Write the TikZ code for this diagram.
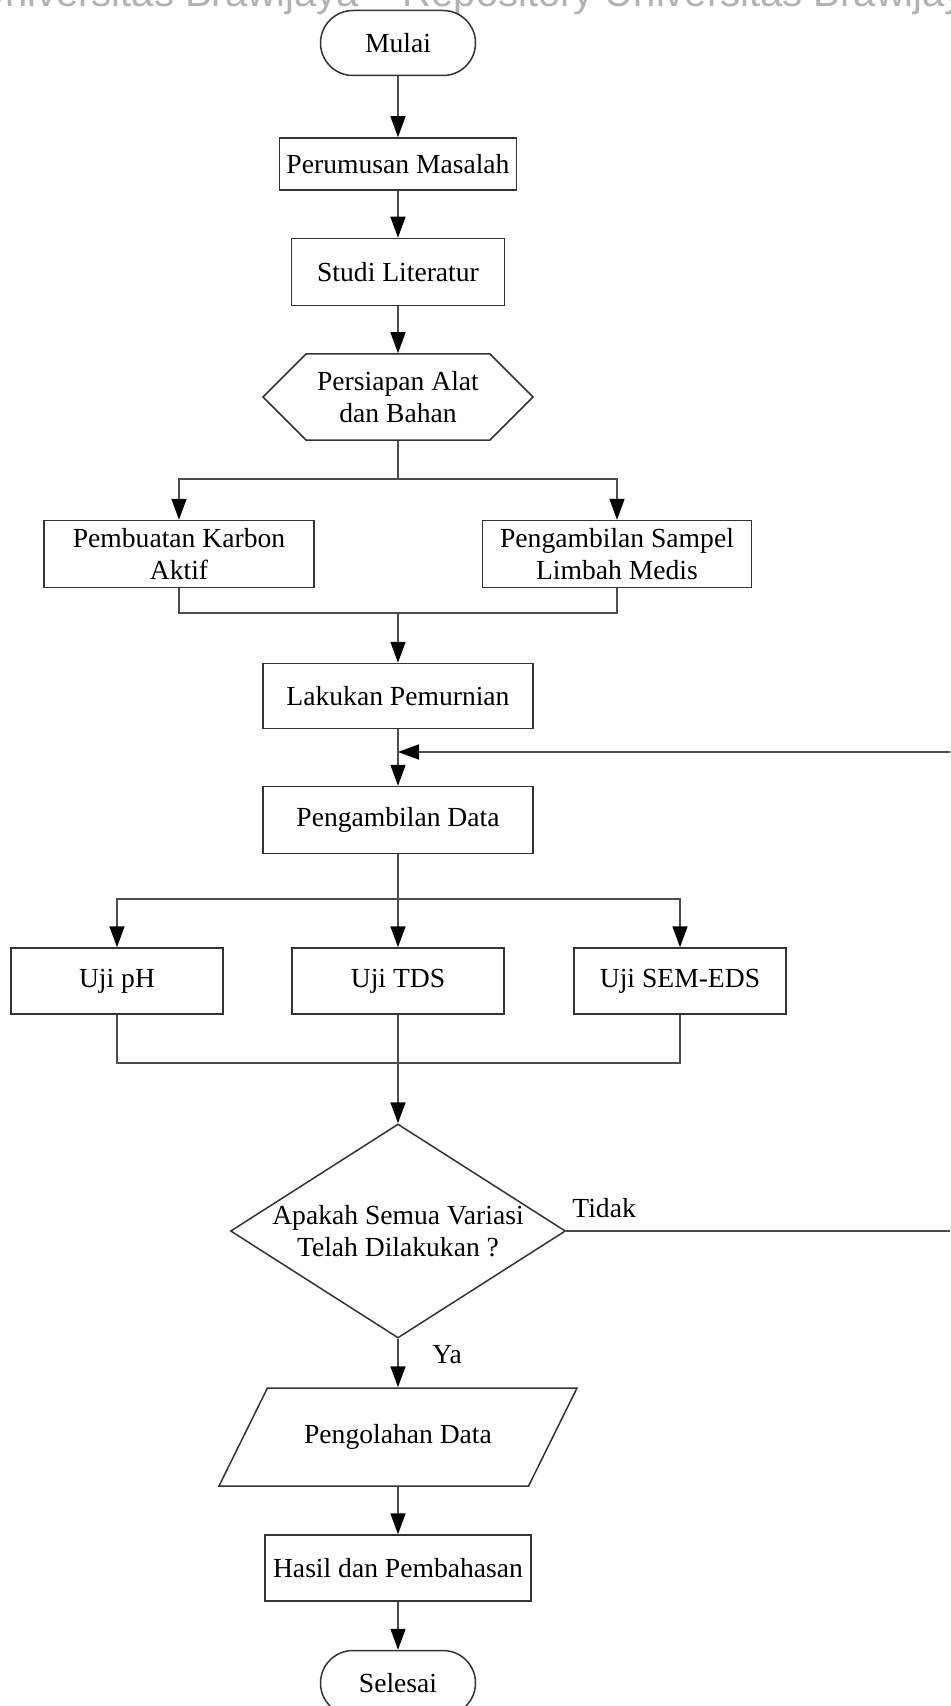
\documentclass[tikz,border=0pt]{standalone}
\usepackage{fontspec}
\setmainfont{Liberation Serif}
\newfontfamily\wmfont{Liberation Sans}
\usepackage{tikz}
\usetikzlibrary{shapes,arrows.meta,positioning,calc}

\tikzset{
  box/.style={draw=black!80, line width=0.75pt, fill=white, rectangle, align=center, inner sep=2pt},
  terminal/.style={box, rounded rectangle, minimum width=81.5pt, minimum height=32.5pt},
  prep/.style={box, signal, signal to=east and west, signal pointer angle=90, minimum width=135pt, minimum height=43pt},
  decision/.style={box, diamond, aspect=1.56, inner sep=0pt, minimum width=167.5pt, minimum height=107pt},
  io/.style={box, trapezium, trapezium left angle=63.7, trapezium right angle=116.3, trapezium stretches body,
    text height=9.5pt, text depth=3pt, inner ysep=18.25pt, minimum width=179pt},
  line/.style={draw=black!70, line width=0.8pt},
  arr/.style={line, -{Triangle[length=10.5pt,width=7.5pt,color=black]}},
  lbl/.style={inner sep=0pt},
}

\begin{document}
\begin{tikzpicture}[x=0.5pt, y=-0.5pt, font=\fontsize{13.8}{16}\selectfont]
    \useasboundingbox (0,0) rectangle (950,1706);
    \clip (0,0) rectangle (950,1706);
    % Watermark
    \node[anchor=base west, inner sep=0pt, text=black!30, font=\wmfont\fontsize{20}{24}\selectfont] (wm) at (-24,7)
        {Universitas Brawijaya\hspace{1.1em}Repository Universitas Brawijaya};
    % Steps
    \node[terminal] (mulai) at (398,43) {Mulai};
    \node[box, minimum width=118.5pt, minimum height=26pt] (rumus) at (398,164) {Perumusan Masalah};
    \node[box, minimum width=106.5pt, minimum height=33.5pt] (studi) at (398,272) {Studi Literatur};
    \node[prep] (siap) at (398,397) {Persiapan Alat\\dan Bahan};
    \node[box, minimum width=135pt, minimum height=33.5pt] (karbon) at (179,554) {Pembuatan Karbon\\Aktif};
    \node[box, minimum width=134.5pt, minimum height=33.5pt] (sampel) at (617,554) {Pengambilan Sampel\\Limbah Medis};
    \node[box, minimum width=135pt, minimum height=32.5pt] (murni) at (398,696) {Lakukan Pemurnian};
    \node[box, minimum width=135pt, minimum height=33.5pt] (data) at (398,820) {Pengambilan Data};
    % Tests
    \node[box, minimum width=106pt, minimum height=33pt] (ujiph) at (117,981) {Uji pH};
    \node[box, minimum width=106pt, minimum height=33pt] (ujitds) at (398,981) {Uji TDS};
    \node[box, minimum width=106pt, minimum height=33pt] (ujisem) at (680,981) {Uji SEM-EDS};
    % Decision and end
    \node[decision] (cek) at (398,1231) {Apakah Semua Variasi\\Telah Dilakukan ?};
    \node[io] (olah) at (398,1437) {Pengolahan Data};
    \node[box, minimum width=133pt, minimum height=33pt] (hasil) at (398,1568) {Hasil dan Pembahasan};
    \node[terminal] (selesai) at (398,1683) {Selesai};
    \node[lbl, anchor=west] (tidak) at (572,1208) {Tidak};
    \node[lbl, anchor=west] (ya) at (432,1355) {Ya};
    % Junctions
    \coordinate (s1) at (398,479);
    \coordinate (m1) at (398,613);
    \coordinate (fb) at (398,752);
    \coordinate (s2) at (398,899);
    \coordinate (m2) at (398,1063);
    \coordinate (kanan) at (975,752);
    % Connectors
    \draw[arr] (mulai) -- (rumus);
    \draw[arr] (rumus) -- (studi);
    \draw[arr] (studi) -- (siap);
    \draw[line] (siap) -- (s1);
    \draw[arr] (s1) -| (karbon);
    \draw[arr] (s1) -| (sampel);
    \draw[line] (karbon) |- (m1);
    \draw[line] (sampel) |- (m1);
    \draw[arr] (m1) -- (murni);
    \draw[arr] (murni) -- (data);
    \draw[line] (data) -- (s2);
    \draw[arr] (s2) -| (ujiph);
    \draw[arr] (s2) -- (ujitds);
    \draw[arr] (s2) -| (ujisem);
    \draw[line] (ujiph) |- (m2);
    \draw[line] (ujisem) |- (m2);
    \draw[line] (ujitds) -- (m2);
    \draw[arr] (m2) -- (cek);
    \draw[arr] (cek) -- (olah);
    \draw[arr] (olah) -- (hasil);
    \draw[arr] (hasil) -- (selesai);
    % Loop back
    \draw[arr] (cek.east) -- (cek.east -| kanan) -- (kanan) -- (fb);
\end{tikzpicture}
\end{document}
